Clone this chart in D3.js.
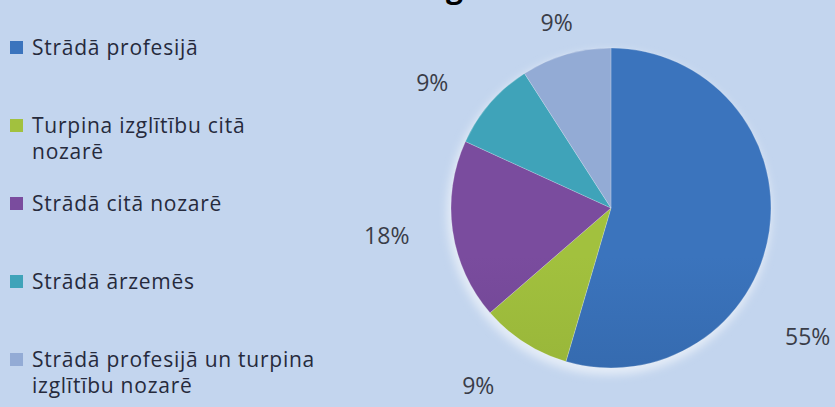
<!DOCTYPE html>
<html>
<head>
<meta charset="utf-8">
<script src="https://cdn.jsdelivr.net/npm/d3@7"></script>
<style>
  body { margin: 0; background: #c3d5ee; }
  svg { display: block; }
  text { font-family: "Open Sans", Lato, sans-serif; }
</style>
</head>
<body>
<div id="chart"></div>
<script>
// Chart data (counts that give 55 / 9 / 18 / 9 / 9 %)
const categories = [
    'Strādā profesijā',
    'Turpina izglītību citā nozarē',
    'Strādā citā nozarē',
    'Strādā ārzemēs',
    'Strādā profesijā un turpina izglītību nozarē'
];
const counts = [6, 1, 2, 1, 1];
// legend text as it wraps in the picture
const legendLines = [
    ['Strādā profesijā'],
    ['Turpina izglītību citā', 'nozarē'],
    ['Strādā citā nozarē'],
    ['Strādā ārzemēs'],
    ['Strādā profesijā un turpina', 'izglītību nozarē']
];
const title = 'gads';

// colours: [top, bottom] of each slice's shading
const colors = [
    ['#3b74bd', '#2b5a97'],
    ['#a2c13e', '#88a332'],
    ['#7a4c9e', '#5d3b80'],
    ['#3fa3b9', '#32889c'],
    ['#93abd5', '#8299c4']
];

const config = {
    width: 835,
    height: 407,
    cx: 611,
    cy: 208,
    radius: 160,
    // label placement (degrees shift from mid angle, distance from centre)
    labelPlace: [[25, 235], [4, 222], [1, 226], [-6, 218], [0, 193]]
};

const svg = d3.select('#chart').append('svg')
    .attr('width', config.width)
    .attr('height', config.height);

const defs = svg.append('defs');

colors.forEach((c, i) => {
    const g = defs.append('linearGradient')
        .attr('id', 'grad' + i)
        .attr('gradientUnits', 'userSpaceOnUse')
        .attr('x1', 0).attr('x2', 0)
        .attr('y1', config.cy - config.radius)
        .attr('y2', config.cy + config.radius);
    g.append('stop').attr('offset', 0).attr('stop-color', c[0]);
    g.append('stop').attr('offset', 1).attr('stop-color', c[1]);
});

const glow = defs.append('filter')
    .attr('id', 'glow')
    .attr('x', '-20%').attr('y', '-20%')
    .attr('width', '140%').attr('height', '140%');
glow.append('feGaussianBlur').attr('stdDeviation', 4);

// background
svg.append('rect')
    .attr('width', config.width)
    .attr('height', config.height)
    .attr('fill', '#c3d5ee');

// title (mostly cut off by the top edge, as in the picture)
svg.append('text')
    .attr('x', 446)
    .attr('y', -2)
    .attr('font-size', 30)
    .attr('font-weight', 'bold')
    .attr('fill', '#000')
    .text(title);

const pie = d3.pie().sort(null).value(d => d);
const arcs = pie(counts);
const total = d3.sum(counts);

const arc = d3.arc().innerRadius(0).outerRadius(config.radius);

const chart = svg.append('g')
    .attr('transform', `translate(${config.cx},${config.cy})`);

// soft light halo under the pie
chart.append('circle')
    .attr('cx', -2)
    .attr('cy', 5)
    .attr('r', config.radius + 2)
    .attr('fill', '#e4ecf7')
    .attr('filter', 'url(#glow)');

chart.selectAll('.slice')
    .data(arcs)
    .join('path')
    .attr('class', 'slice')
    .attr('d', arc)
    .attr('fill', (d, i) => `url(#grad${i})`)
    .attr('stroke', 'rgba(255,255,255,0.25)')
    .attr('stroke-width', 0.8);

// percentage labels
chart.selectAll('.pct')
    .data(arcs)
    .join('text')
    .attr('class', 'pct')
    .attr('text-anchor', 'middle')
    .attr('dy', '0.35em')
    .attr('font-size', 23)
    .attr('fill', '#3a3d48')
    .attr('transform', (d, i) => {
        const [shift, dist] = config.labelPlace[i];
        const a = (d.startAngle + d.endAngle) / 2 + shift * Math.PI / 180;
        return `translate(${dist * Math.sin(a)},${-dist * Math.cos(a)})`;
    })
    .text(d => Math.round(d.value / total * 100) + '%');

// legend
const legendY = d3.scalePoint()
    .domain(categories)
    .range([47, 359]);

const legend = svg.append('g').attr('class', 'legend');

const item = legend.selectAll('.legend-item')
    .data(categories)
    .join('g')
    .attr('class', 'legend-item')
    .attr('transform', d => `translate(0,${legendY(d)})`);

item.append('rect')
    .attr('x', 10)
    .attr('y', -6)
    .attr('width', 13)
    .attr('height', 13)
    .attr('fill', (d, i) => `url(#grad${i})`);

item.append('text')
    .attr('x', 32)
    .attr('font-size', 21)
    .attr('letter-spacing', 0.75)
    .attr('fill', '#262a3c')
    .selectAll('tspan')
    .data((d, i) => legendLines[i])
    .join('tspan')
    .attr('x', 32)
    .attr('dy', (d, j) => j === 0 ? 8 : 26)
    .text(d => d);
</script>
</body>
</html>
